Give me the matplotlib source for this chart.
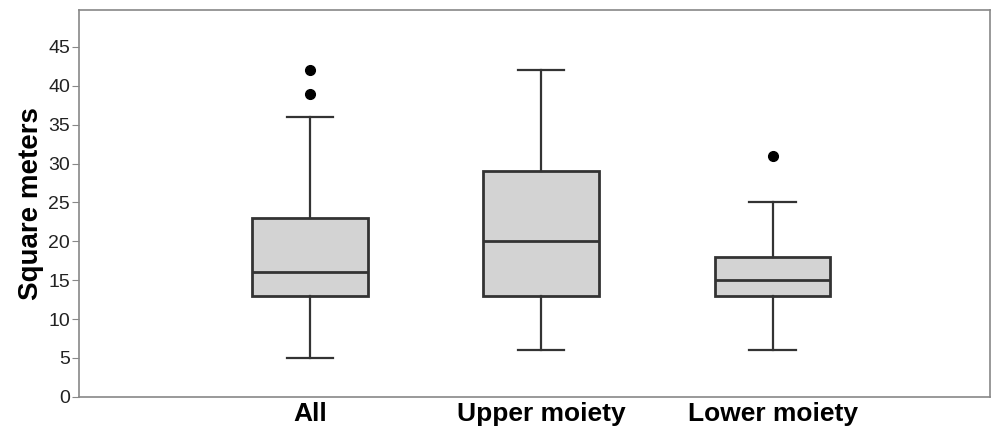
import matplotlib
matplotlib.use("Agg")
import matplotlib.pyplot as plt

# Box statistics
groups = ["All", "Upper moiety", "Lower moiety"]
whislo = [5, 6, 6]
q1 = [13, 13, 13]
med = [16, 20, 15]
q3 = [23, 29, 18]
whishi = [36, 42, 25]
fliers = [[39, 42], [], [31]]

yticks = [0, 5, 10, 15, 20, 25, 30, 35, 40, 45]

plt.rcParams['font.family'] = ['Liberation Sans', 'DejaVu Sans']

stats = [
    {'label': g, 'whislo': lo, 'q1': a, 'med': m, 'q3': b, 'whishi': hi,
     'fliers': f}
    for g, lo, a, m, b, hi, f in zip(groups, whislo, q1, med, q3, whishi, fliers)
]

fig = plt.figure(figsize=(9.94, 4.36), dpi=100)
ax = fig.add_axes([0.079, 0.09, 0.917, 0.888])

edge = '#333333'
ax.bxp(
    stats, positions=[1, 2, 3], widths=0.5, capwidths=0.2,
    patch_artist=True, showfliers=True,
    boxprops=dict(facecolor='#d3d3d3', edgecolor=edge, linewidth=2),
    medianprops=dict(color=edge, linewidth=2),
    whiskerprops=dict(color=edge, linewidth=1.6),
    capprops=dict(color=edge, linewidth=1.6),
    flierprops=dict(marker='o', markerfacecolor='black',
                    markeredgecolor='black', markersize=7),
)

ax.set_xlim(0, 3.94)
ax.set_ylim(0, 49.8)
ax.set_yticks(yticks)
ax.set_yticklabels([str(t) for t in yticks], fontsize=14, color='#222222')
ax.set_xticks([1, 2, 3])
ax.set_xticklabels(groups, fontsize=19, fontweight='bold')
ax.tick_params(axis='x', length=0, pad=4)
ax.tick_params(axis='y', length=5, color='#888888', pad=1)
ax.set_ylabel('Square meters', fontsize=20, fontweight='bold', labelpad=3)

for s in ax.spines.values():
    s.set_color('#888888')
    s.set_linewidth(1.2)

fig.savefig('out.png', dpi=100)
